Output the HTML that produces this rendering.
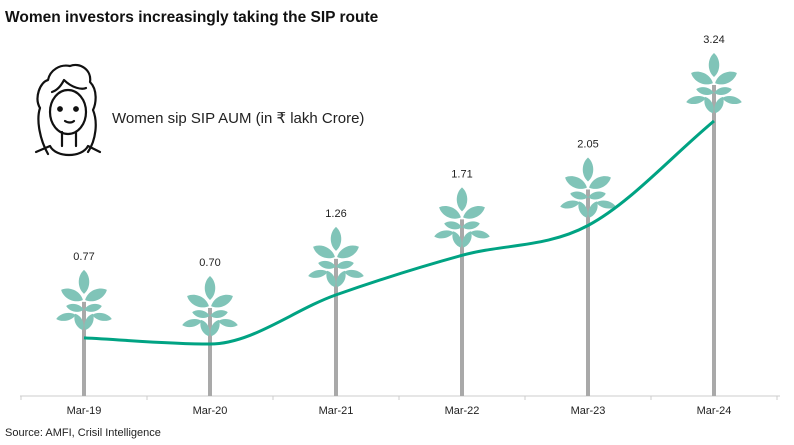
<!DOCTYPE html>
<html><head><meta charset="utf-8"><style>
body{margin:0;background:#fff;font-family:"Liberation Sans",sans-serif}
#wrap{position:relative;width:794px;height:445px;overflow:hidden}
</style></head><body>
<div id="wrap">
<svg id="chart" width="794" height="445">
<text x="5" y="22" font-size="15.5" font-weight="bold" fill="#111">Women investors increasingly taking the SIP route</text>
<g fill="none" stroke="#111" stroke-width="2.2" stroke-linecap="round" stroke-linejoin="round">
<path d="M48,154 C40,140 36,120 40,108 C34,98 40,82 48,80 C50,70 60,64 70,66 C80,62 92,70 90,82 C98,90 96,104 93,110 C98,122 96,140 88,152"/>
<path d="M52,92 C58,90 62,84 64,80 C72,88 82,90 86,88"/>
<ellipse cx="68" cy="112" rx="18" ry="22"/>
<path d="M62,132 L62,146 M76,132 L76,146"/>
<path d="M36,152 L50,146 C56,158 82,158 88,146 L100,152"/>
<circle cx="60" cy="109" r="1.8" fill="#111"/><circle cx="76" cy="109" r="1.8" fill="#111"/>
<path d="M65,121 C68,123 72,123 74,121"/>
</g>
<text x="112" y="123" font-size="15" fill="#222">Women sip SIP AUM (in ₹ lakh Crore)</text>
<line x1="20" y1="396" x2="780" y2="396" stroke="#ccc" stroke-width="1"/>
<g id="marks"></g>
<text x="5" y="436" font-size="11" fill="#222">Source: AMFI, Crisil Intelligence</text>
</svg>
</div>
<script>
const categories=["Mar-19","Mar-20","Mar-21","Mar-22","Mar-23","Mar-24"];
const values=[0.77,0.70,1.26,1.71,2.05,3.24];
const valueLabels=["0.77","0.70","1.26","1.71","2.05","3.24"];
const NS="http://www.w3.org/2000/svg";
const g=document.getElementById('marks');
function xs(i){return 84+i*126;}
function ys(v){return 405.5-v*87.8;}
function mk(t,a,p){const e=document.createElementNS(NS,t);for(const k in a)e.setAttribute(k,a[k]);(p||g).appendChild(e);return e;}
function leafPath(L,W){return `M${-L},0 C${-L/2},${-W} ${L/2},${-W} ${L},0 C${L/2},${W} ${-L/2},${W} ${-L},0Z`;}
for(let i=0;i<=categories.length;i++){const tx=xs(i)-63;const t=mk('line',{x1:tx,x2:tx,y1:396,y2:400,stroke:'#ccc'});

}
// [dx, dy, halfLength, halfWidth, angle]
const leaves=[[0,12,12,7,90],[-12,25,12,7,25],[12,25,12,7,-25],[-9,38,9,5,12],[9,38,9,5,-12],[-18,47,10,5,-12],[18,47,10,5,12],[-5,52,9,5,65],[5,52,9,5,-65]];
values.forEach((v,i)=>{
 const cx=xs(i),py=ys(v),tip=py-68;
 const grp=mk('g',{});
 
 
 const st=mk('line',{x1:cx,x2:cx,y1:tip+32,y2:396,stroke:'#a9a9a9','stroke-width':4},grp);
 
 
 leaves.forEach(l=>{const e=mk('path',{d:leafPath(l[2],l[3]),fill:'#80c4b8',transform:`translate(${cx+l[0]} ${tip+l[1]}) rotate(${l[4]})`},grp);
 
 });
 const lb=mk('text',{x:cx,y:py-78,'font-size':11,'text-anchor':'middle',fill:'#222'});
 lb.textContent=valueLabels[i];
 
 
 const xl=mk('text',{x:cx,y:414,'font-size':11,'text-anchor':'middle',fill:'#222'});
 xl.textContent=categories[i];
 
 
});
const pts=values.map((v,i)=>[xs(i),ys(v)]);
const n=pts.length,d=[],m=[];
for(let i=0;i<n-1;i++)d.push((pts[i+1][1]-pts[i][1])/(pts[i+1][0]-pts[i][0]));
for(let i=0;i<n;i++){if(i==0)m.push(d[0]);else if(i==n-1)m.push(d[n-2]);else m.push(d[i-1]*d[i]<=0?0:(d[i-1]+d[i])/2);}
let path=`M${pts[0][0]},${pts[0][1]}`;
for(let i=0;i<n-1;i++){const h=(pts[i+1][0]-pts[i][0])/3;
path+=` C${pts[i][0]+h},${pts[i][1]+m[i]*h} ${pts[i+1][0]-h},${pts[i+1][1]-m[i+1]*h} ${pts[i+1][0]},${pts[i+1][1]}`;}
const ln=mk('path',{d:path,fill:'none',stroke:'#00a383','stroke-width':3});


</script>
</body></html>
